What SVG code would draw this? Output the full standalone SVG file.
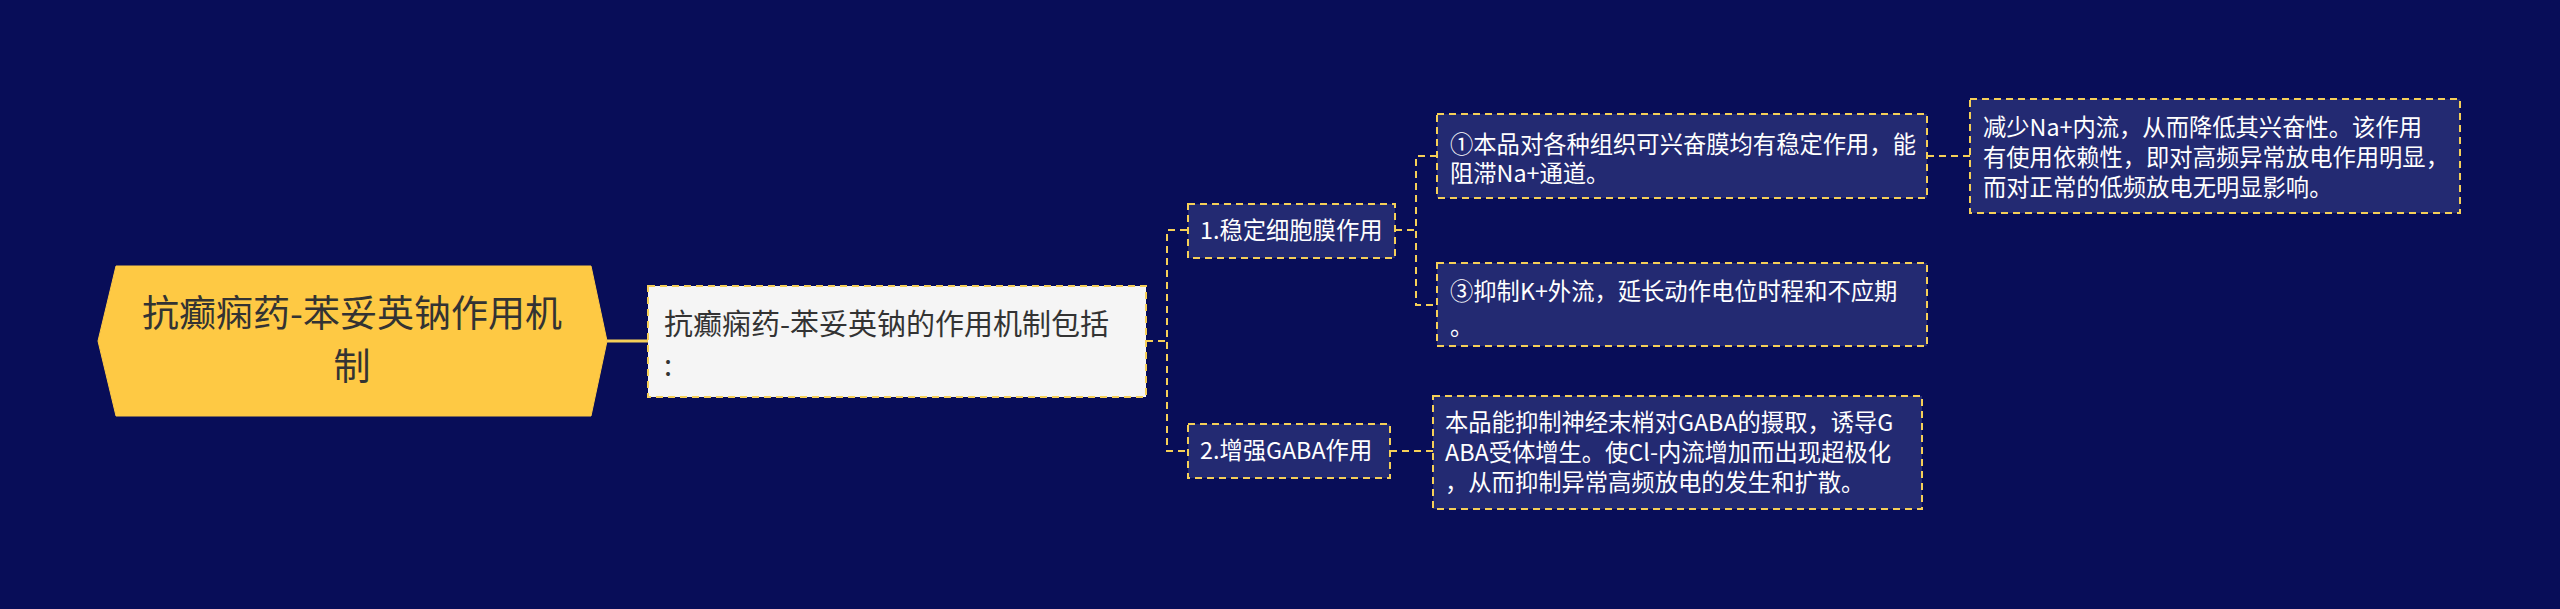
<svg xmlns="http://www.w3.org/2000/svg" width="2560" height="609" viewBox="0 0 2560 609">
<style>
text{font-family:"Noto Sans CJK SC","Liberation Sans",sans-serif;}
.box{fill:#232a72;stroke:#f5cf58;stroke-width:2;stroke-dasharray:7 5;}
.t{fill:#ffffff;font-size:23.3px;}
.c{fill:none;stroke:#f5cf58;stroke-width:2;stroke-dasharray:7 5;}
</style>
<rect width="2560" height="609" fill="#080d58"/>
<g id="connectors">
<line x1="607" y1="341" x2="648" y2="341" stroke="#f5cf58" stroke-width="3"/>
<path class="c" d="M1146 341H1167M1187 230H1167V451H1187"/>
<path class="c" d="M1395 230H1416M1437 156H1416V305H1437"/>
<path class="c" d="M1927 156H1970"/>
<path class="c" d="M1390 451H1433"/>
</g>
<g id="root">
<polygon points="98,341 116,266 591,266 607,341 591,416 116,416" fill="#fec944" stroke="#fec944"/>
<text x="352" y="327" text-anchor="middle" font-size="37" fill="#333">抗癫痫药-苯妥英钠作用机</text>
<text x="352" y="380" text-anchor="middle" font-size="37" fill="#333">制</text>
</g>
<g id="n1">
<rect x="648" y="286" width="498" height="111" fill="#f5f5f5" stroke="#f5cf58" stroke-width="2" stroke-dasharray="7 5"/>
<text x="664" y="335" font-size="29" fill="#333">抗癫痫药-苯妥英钠的作用机制包括</text>
<text x="664" y="376" font-size="29" fill="#333">:</text>
</g>
<g id="n2">
<rect class="box" x="1188" y="204" width="207" height="54"/>
<text class="t" x="1200" y="239">1.稳定细胞膜作用</text>
</g>
<g id="n3">
<rect class="box" x="1188" y="424" width="202" height="54"/>
<text class="t" x="1200" y="459">2.增强GABA作用</text>
</g>
<g id="n4">
<rect class="box" x="1437" y="114" width="490" height="84"/>
<text class="t" x="1450" y="153">①本品对各种组织可兴奋膜均有稳定作用，能</text>
<text class="t" x="1450" y="182">阻滞Na+通道。</text>
</g>
<g id="n5">
<rect class="box" x="1437" y="263" width="490" height="83"/>
<text class="t" x="1450" y="300">③抑制K+外流，延长动作电位时程和不应期</text>
<text class="t" x="1450" y="335">。</text>
</g>
<g id="n6">
<rect class="box" x="1970" y="99" width="490" height="114"/>
<text class="t" x="1983" y="136">减少Na+内流，从而降低其兴奋性。该作用</text>
<text class="t" x="1983" y="166">有使用依赖性，即对高频异常放电作用明显，</text>
<text class="t" x="1983" y="196">而对正常的低频放电无明显影响。</text>
</g>
<g id="n7">
<rect class="box" x="1433" y="396" width="489" height="113"/>
<text class="t" x="1445" y="431">本品能抑制神经末梢对GABA的摄取，诱导G</text>
<text class="t" x="1445" y="461">ABA受体增生。使Cl-内流增加而出现超极化</text>
<text class="t" x="1445" y="491">，从而抑制异常高频放电的发生和扩散。</text>
</g>
</svg>
